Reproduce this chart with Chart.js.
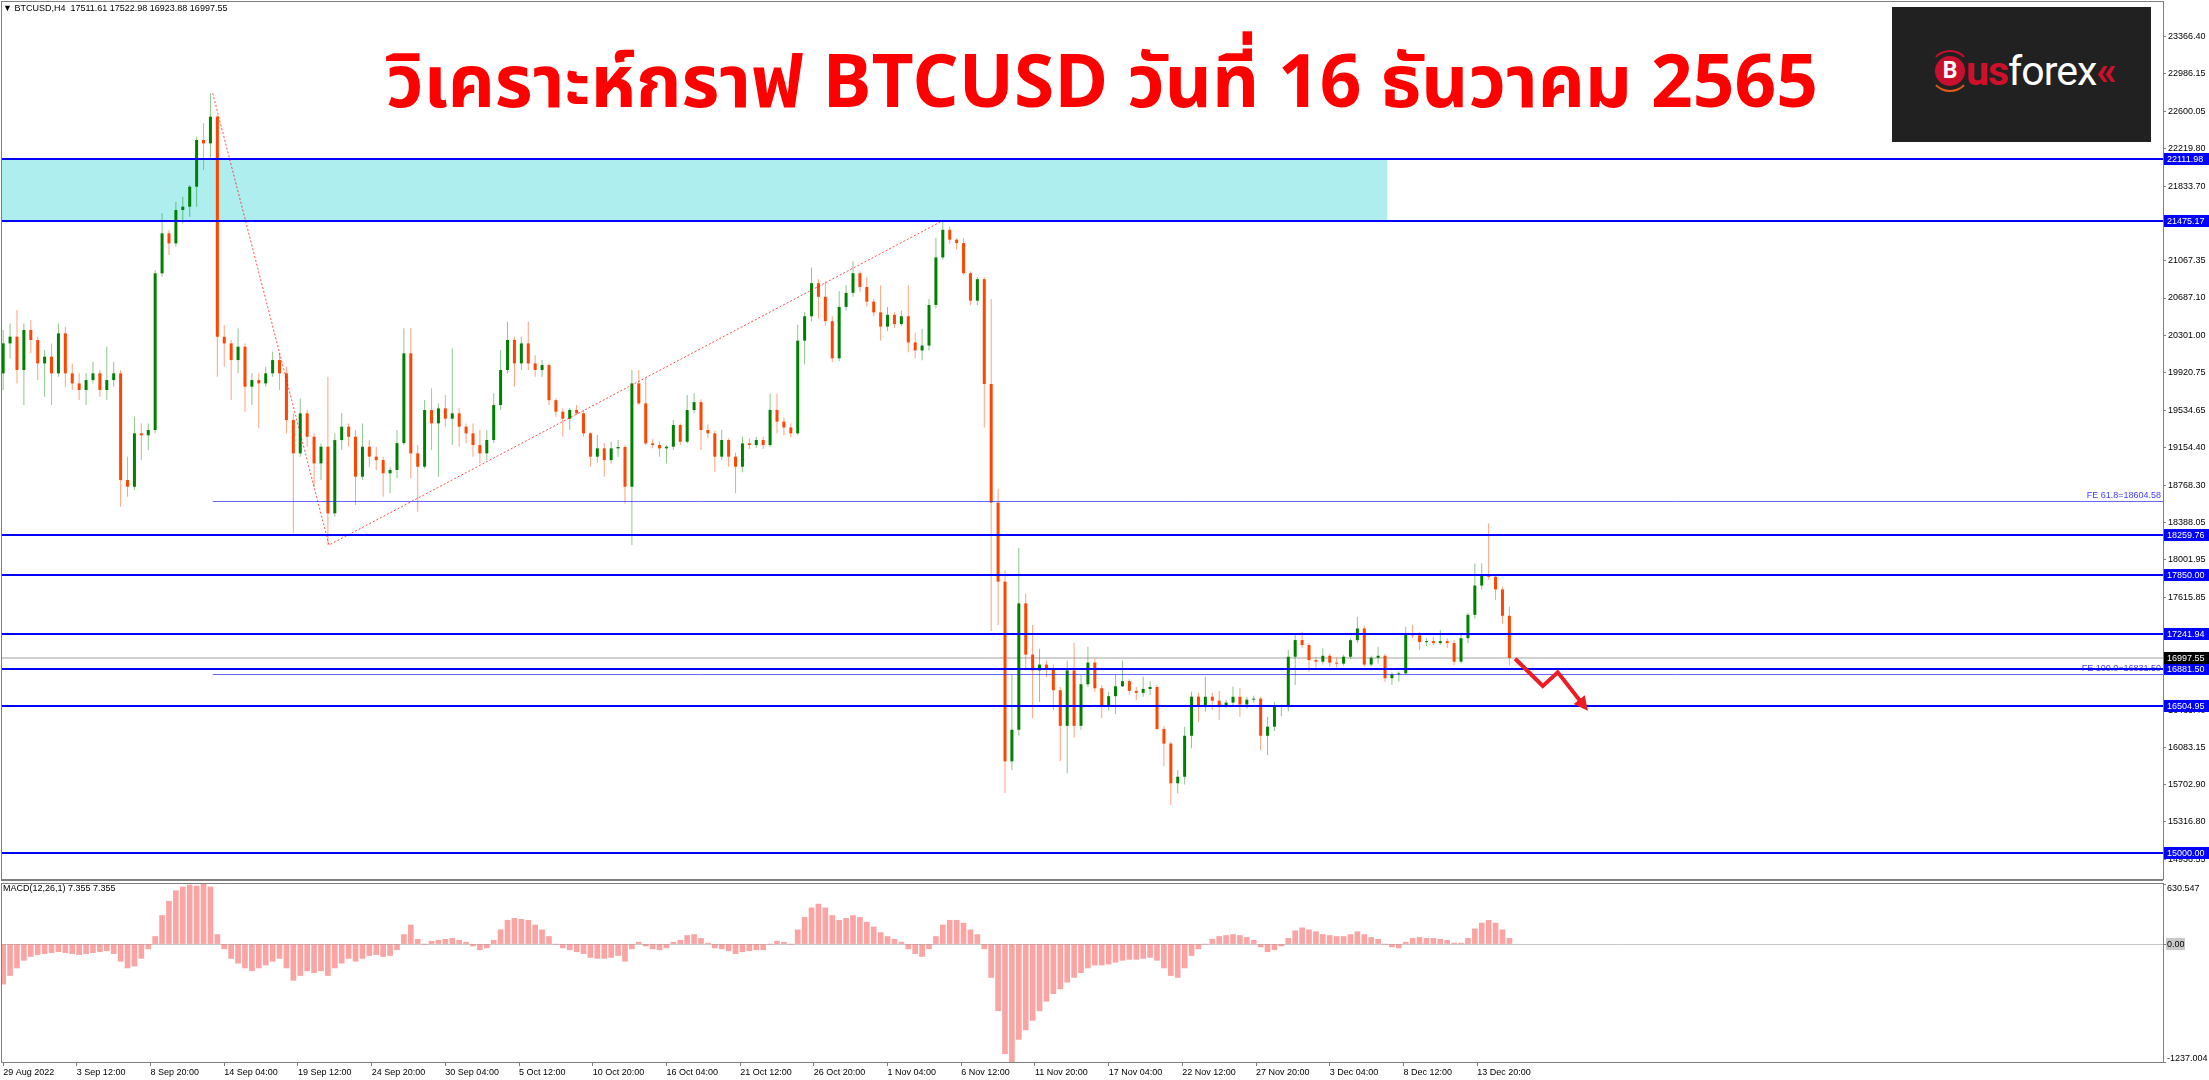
<!DOCTYPE html>
<html lang="th">
<head>
<meta charset="utf-8">
<title>BTCUSD H4</title>
<script src="https://cdn.jsdelivr.net/npm/chart.js@4.4.1/dist/chart.umd.min.js"></script>
<style>
  html, body { margin: 0; padding: 0; background: #ffffff; }
  body { position: relative; width: 2209px; height: 1080px; overflow: hidden; font-family: "Liberation Sans", Arial, sans-serif; }
  canvas { position: absolute; left: 0; }
  #price-chart { top: 0; }
  #macd-chart { top: 881px; }
  .caption { position: absolute; font-size: 9px; line-height: 11px; color: #000; white-space: pre; }
  #title { position: absolute; left: 0; top: 35px; width: 2204px; text-align: center; color: #ff0000; font-weight: bold; font-size: 73px; line-height: 100px; font-family: "Noto Sans Thai", "Noto Sans", sans-serif; white-space: nowrap; }
  #logo { position: absolute; left: 1892px; top: 7px; width: 259px; height: 135px; background: #212121; }
  #logo .coin { position: absolute; left: 43px; top: 49px; width: 30px; height: 30px; border-radius: 50%; background: #c8102e; color: #fff; font: bold 23px/30px Roboto, sans-serif; text-align: center; }
  #logo .ring { position: absolute; left: 37px; top: 43px; width: 38px; height: 38px; border-radius: 50%; border: 2px solid transparent; border-top-color: #c8102e; border-bottom-color: #e05a1a; }
  #logo .word { position: absolute; left: 74px; top: 42px; font: 41px/44px Roboto, sans-serif; white-space: nowrap; letter-spacing: -1px; }
  #logo .us { color: #d0102a; font-weight: bold; }
  #logo .fx { color: #ffffff; }
  #logo .chev { color: #d0102a; font-weight: bold; }
</style>
</head>
<body>
<canvas id="price-chart" width="2209" height="881"></canvas>
<canvas id="macd-chart" width="2209" height="199"></canvas>
<div class="caption" style="left:3px;top:3px">▼ BTCUSD,H4  17511.61 17522.98 16923.88 16997.55</div>
<div class="caption" style="left:3px;top:883px">MACD(12,26,1) 7.355 7.355</div>
<div id="title">วิเคราะห์กราฟ BTCUSD วันที่ 16 ธันวาคม 2565</div>
<div id="logo"><div class="ring"></div><div class="coin">B</div><div class="word"><span class="us">us</span><span class="fx">forex</span><span class="chev">«</span></div></div>
<script>
// 12 hour candles (29 Aug 2022 - 16 Dec 2022)
const opens = [
  19915,20222,20291,19949,20359,20257,20017,20086,19915,20325,
  19915,19812,19744,19846,19915,19744,19846,19915,18821,18753,
  19300,19280,19334,20940,21350,21247,21589,21623,21828,22307,
  22272,22546,20290,20222,20051,20188,19778,19846,19812,19915,
  20051,19915,19436,19095,19505,19265,18992,19163,18480,19231,
  19368,19265,18856,19163,19061,19026,18890,18924,19200,20120,
  19095,18958,19539,19402,19556,19450,19505,19368,19300,19180,
  19095,19232,19590,19949,20257,20017,20222,20017,19949,20000,
  19640,19522,19450,19540,19505,19300,19061,19146,19026,19146,
  19160,18753,19812,19607,19197,19180,19146,19163,19385,19214,
  19539,19620,19334,19300,19061,19232,19061,18958,19197,19180,
  19232,19180,19540,19420,19360,19300,20250,20500,20839,20700,
  20450,20069,20596,20740,20941,20800,20650,20540,20394,20515,
  20420,20500,20232,20150,20200,20616,21103,21386,21285,21250,
  20941,20660,20880,19806,18590,17780,15938,16262,17557,17032,
  16870,16930,16890,16667,16302,16870,16302,16728,16950,16687,
  16500,16606,16707,16760,16660,16640,16680,16700,16270,16120,
  15713,15780,16200,16601,16500,16600,16560,16515,16540,16600,
  16520,16570,16580,16200,16293,16498,16500,17010,17181,17130,
  16976,16960,17020,16950,16940,17010,17180,17300,16930,17000,
  17020,16790,16830,16840,17249,17230,17160,17170,17150,17170,
  17150,16960,17200,17440,17740,17847,17830,17700,17430
];
const highs = [
  20359,20427,20564,20427,20461,20291,20155,20222,20427,20393,
  20017,19915,19915,20034,19949,20188,20034,19949,19061,19470,
  19402,19402,20974,21555,21384,21674,21726,21845,22341,22478,
  22785,22560,20410,20257,20376,20222,19915,19915,19983,20137,
  20120,19983,19505,19658,19539,19300,19197,19881,19300,19505,
  19402,19334,19402,19231,19163,19061,18958,19334,20376,20376,
  19180,19642,19761,19607,19693,20171,19556,19402,19400,19334,
  19334,19710,20154,20444,20290,20290,20444,20100,20052,20017,
  19659,19556,19560,19590,19540,19310,19283,19200,19214,19232,
  19180,19949,19949,19864,19240,19220,19180,19437,19400,19693,
  19710,19650,19390,19330,19334,19250,19100,19266,19249,19266,
  19266,19705,19705,19462,19400,20414,20540,21001,20880,20860,
  20500,20758,20819,21062,20960,20900,20680,20819,20596,20540,
  20560,20819,20330,20373,20677,21305,21467,21420,21300,21300,
  20960,20900,20900,20677,18733,17900,16829,18125,17659,17335,
  17092,16971,16930,16700,16971,17153,16829,17112,16990,16720,
  16650,16829,16971,16780,16700,16805,16760,16720,16300,16140,
  15850,16293,16652,16640,16805,16640,16660,16570,16703,16686,
  16600,16610,16600,16396,16549,16520,17079,17232,17266,17150,
  17010,17096,17040,17000,17030,17200,17420,17330,17020,17113,
  17040,16850,16860,17318,17335,17260,17200,17215,17283,17200,
  17180,17232,17460,17966,17966,18376,17840,17727,17522.98
];
const lows = [
  19744,20068,19812,19590,20120,19846,19675,19590,19881,19778,
  19744,19641,19590,19812,19675,19641,19778,18548,18650,18719,
  19026,19129,19300,20906,21128,21213,21452,21521,21623,22000,
  22102,19881,19983,19641,19915,19522,19590,19351,19778,19881,
  19744,19300,18275,19061,19163,18753,18821,18155,18446,19129,
  19163,18565,18821,18958,18924,18651,18685,18840,19180,18839,
  18497,18940,19129,18856,19368,19180,19163,19197,19061,18992,
  19026,19200,19540,19915,19778,19950,19950,19881,19881,19590,
  19471,19266,19334,19488,19266,18958,19000,18856,18992,19060,
  18582,18155,19590,19180,19146,19061,18992,19129,19180,19197,
  19505,19129,19250,18907,19030,18958,18685,18900,19140,19150,
  19140,19160,19300,19280,19260,19280,20009,20450,20475,20400,
  20029,20040,20556,20700,20750,20600,20500,20252,20350,20380,
  20400,20130,20069,20049,20150,20580,21080,21244,21184,20920,
  20616,20616,19361,17274,17335,15614,15850,16200,16870,16383,
  16545,16800,16465,15938,15816,16181,16260,16700,16650,16383,
  16460,16424,16700,16620,16566,16600,16620,16259,15888,15491,
  15611,15700,16071,16345,16450,16464,16362,16490,16500,16396,
  16480,16540,16054,16003,16250,16400,16450,16720,17100,16857,
  16900,16930,16908,16900,16920,16990,17150,16908,16910,16940,
  16754,16720,16754,16820,17200,17079,17120,17130,17130,17100,
  16925,16940,17150,17400,17700,17800,17591,17352,16923.88
];
const closes = [
  20222,20291,19949,20359,20257,20017,20086,19915,20325,19915,
  19812,19744,19846,19915,19744,19846,19915,18821,18753,19300,
  19280,19334,20940,21350,21247,21589,21623,21828,22307,22272,
  22546,20290,20222,20051,20188,19778,19846,19812,19915,20051,
  19915,19436,19095,19505,19265,18992,19163,18480,19231,19368,
  19265,18856,19163,19061,19026,18890,18924,19200,20120,19095,
  18958,19539,19402,19556,19450,19505,19368,19300,19180,19095,
  19232,19590,19949,20257,20017,20222,20017,19949,20000,19640,
  19522,19450,19540,19505,19300,19061,19146,19026,19146,19160,
  18753,19812,19607,19197,19180,19146,19163,19385,19214,19539,
  19620,19334,19300,19061,19232,19061,18958,19197,19180,19232,
  19180,19540,19420,19360,19300,20250,20500,20839,20700,20450,
  20069,20596,20740,20941,20800,20650,20540,20394,20515,20420,
  20500,20232,20150,20200,20616,21103,21386,21285,21250,20941,
  20660,20880,19806,18590,17780,15938,16262,17557,17032,16870,
  16930,16890,16667,16302,16870,16302,16728,16950,16687,16500,
  16606,16707,16760,16660,16640,16680,16700,16270,16120,15713,
  15780,16200,16601,16500,16600,16560,16515,16540,16600,16520,
  16570,16580,16200,16293,16498,16500,17010,17181,17130,16976,
  16960,17020,16950,16940,17010,17180,17300,16930,17000,17020,
  16790,16830,16840,17249,17230,17160,17170,17150,17170,17150,
  16960,17200,17440,17740,17847,17830,17700,17430,16997.55
];
// MACD(12,26,1) histogram, one reading per 12h candle
const macdValues = [
  -420,-330,-250,-170,-130,-110,-100,-90,-80,-90,
  -100,-110,-100,-90,-80,-70,-100,-180,-250,-230,
  -150,-50,80,300,450,560,600,620,610,630,
  600,100,-50,-150,-200,-250,-280,-250,-220,-180,
  -150,-250,-380,-330,-280,-300,-280,-330,-250,-200,
  -150,-180,-150,-120,-110,-130,-120,-60,100,200,
  50,0,30,40,50,60,40,20,-20,-60,
  -40,40,150,250,270,260,250,200,150,80,
  0,-40,-60,-80,-100,-140,-150,-150,-140,-120,
  -180,-50,20,-20,-50,-60,-40,20,40,90,
  100,60,10,-40,-50,-70,-100,-80,-70,-60,
  -60,0,30,20,0,150,280,380,420,380,
  300,250,270,300,280,230,180,120,80,50,
  20,-50,-100,-130,-50,80,200,250,250,220,
  150,100,-50,-350,-700,-1150,-1237,-1000,-900,-800,
  -700,-600,-520,-470,-400,-350,-300,-250,-220,-220,
  -210,-190,-170,-160,-160,-150,-140,-170,-250,-330,
  -350,-250,-120,-50,0,50,80,90,100,90,
  70,40,-30,-80,-60,-20,60,140,170,150,
  130,100,90,80,80,100,130,100,70,50,
  0,-30,-40,20,60,70,60,60,50,40,
  10,10,60,160,220,250,220,150,60
];

// axis ticks
const priceTicks = [23366.40, 22986.15, 22600.05, 22219.80, 21833.70, 21447.45, 21067.35, 20687.10,
  20301.00, 19920.75, 19534.65, 19154.40, 18768.30, 18388.05, 18001.95, 17615.85, 17229.75,
  16849.50, 16463.40, 16083.15, 15702.90, 15316.80, 14936.55];
const macdTicks = [630.547, 0, -1237.004];
const macdTickLabels = ['630.547', '0.00', '-1237.004'];
// positions counted in H4 bars from 29 Aug 00:00
const timeTicks = [1, 33, 65, 97, 129, 161, 193, 225, 257, 289, 321, 353, 385, 417, 449, 481, 513, 545, 577, 609, 641];
const timeLabels = ['29 Aug 2022', '3 Sep 12:00', '8 Sep 20:00', '14 Sep 04:00', '19 Sep 12:00', '24 Sep 20:00',
  '30 Sep 04:00', '5 Oct 12:00', '10 Oct 20:00', '16 Oct 04:00', '21 Oct 12:00', '26 Oct 20:00',
  '1 Nov 04:00', '6 Nov 12:00', '11 Nov 20:00', '17 Nov 04:00', '22 Nov 12:00', '27 Nov 20:00',
  '3 Dec 04:00', '8 Dec 12:00', '13 Dec 20:00'];

// drawn objects
const levelLines = [22111.98, 21475.17, 18259.76, 17850.00, 17241.94, 16881.50, 16504.95, 15000.00];
const zoneLevels = [21475.17, 22111.98];
const zoneEndBar = 602;
const feLevels = [18604.58, 16831.50];
const feLabels = ['FE 61.8=18604.58', 'FE 100.0=16831.50'];
const feStartBar = 92;
const lastPrice = 16997.55;
const fiboPoints = [[92, 22785], [142.5, 18155], [408, 21467]];
const arrowPoints = [[657.5, 16990], [669.5, 16710], [676, 16850], [688, 16490]];

const X_MIN = 0.5, X_MAX = 938.8;
const UP = '#008000', DOWN = '#ff4500';
const UP_WICK = 'rgba(0,128,0,0.45)', DOWN_WICK = 'rgba(255,69,0,0.5)';
const MACD_RED = 'rgba(245,90,90,0.55)';
const FRAME = '#7f7f7f';
const AXIS_FONT = '9px "Liberation Sans", Arial, sans-serif';

Chart.defaults.font.family = '"Liberation Sans", Arial, sans-serif';
Chart.defaults.font.size = 9;
Chart.defaults.color = '#000';

// each 12h candle sits on the middle of its three H4 bars
const barIndex = closes.map((c, k) => 3 * k + 1);
const isUp = closes.map((c, k) => c >= opens[k]);

function clipArea(ctx, a) {
  ctx.beginPath();
  ctx.rect(a.left, a.top, a.right - a.left, a.bottom - a.top);
  ctx.clip();
}

function axisBox(ctx, a, yPix, text, bg) {
  ctx.fillStyle = bg;
  ctx.fillRect(a.right + 1, Math.round(yPix) - 6, 45, 12);
  ctx.fillStyle = '#fff';
  ctx.textAlign = 'left';
  ctx.textBaseline = 'middle';
  ctx.fillText(text, a.right + 4, Math.round(yPix) + 0.5);
}

const priceOverlay = {
  id: 'priceOverlay',
  beforeDatasetsDraw(chart) {
    const { ctx, chartArea: a, scales: { x, y } } = chart;
    ctx.save();
    clipArea(ctx, a);
    const y1 = y.getPixelForValue(zoneLevels[1]);
    const y2 = y.getPixelForValue(zoneLevels[0]);
    ctx.fillStyle = '#afeeee';
    ctx.fillRect(a.left, y1, x.getPixelForValue(zoneEndBar) - a.left, y2 - y1);
    // current price line
    ctx.strokeStyle = '#c0c0c0';
    ctx.lineWidth = 1.5;
    const yl = y.getPixelForValue(lastPrice);
    ctx.beginPath(); ctx.moveTo(a.left, yl); ctx.lineTo(a.right, yl); ctx.stroke();
    ctx.restore();
  },
  afterDatasetsDraw(chart) {
    const { ctx, chartArea: a, scales: { x, y } } = chart;
    ctx.save();
    clipArea(ctx, a);
    // fibo expansion anchors
    ctx.strokeStyle = 'rgba(255,0,0,0.7)';
    ctx.lineWidth = 1;
    ctx.setLineDash([2, 2]);
    ctx.beginPath();
    fiboPoints.forEach((p, i) => {
      const px = x.getPixelForValue(p[0]), py = y.getPixelForValue(p[1]);
      if (i === 0) ctx.moveTo(px, py); else ctx.lineTo(px, py);
    });
    ctx.stroke();
    ctx.setLineDash([]);
    // FE levels
    ctx.strokeStyle = 'rgba(40,40,255,0.7)';
    ctx.lineWidth = 1;
    ctx.font = AXIS_FONT;
    feLevels.forEach((v, i) => {
      const py = Math.round(y.getPixelForValue(v)) + 0.5;
      ctx.beginPath(); ctx.moveTo(x.getPixelForValue(feStartBar), py); ctx.lineTo(a.right, py); ctx.stroke();
      ctx.fillStyle = '#4040ff';
      ctx.textAlign = 'right';
      ctx.textBaseline = 'bottom';
      ctx.fillText(feLabels[i], a.right - 2, py - 1);
    });
    // horizontal levels
    ctx.strokeStyle = '#0000ff';
    ctx.lineWidth = 2;
    levelLines.forEach(v => {
      const py = Math.round(y.getPixelForValue(v));
      ctx.beginPath(); ctx.moveTo(a.left, py); ctx.lineTo(a.right, py); ctx.stroke();
    });
    // forecast arrow
    const pts = arrowPoints.map(p => [x.getPixelForValue(p[0]), y.getPixelForValue(p[1])]);
    ctx.strokeStyle = '#ee1c25';
    ctx.fillStyle = '#ee1c25';
    ctx.lineWidth = 4;
    ctx.lineJoin = 'miter';
    ctx.beginPath();
    pts.forEach((p, i) => { if (i === 0) ctx.moveTo(p[0], p[1]); else ctx.lineTo(p[0], p[1]); });
    ctx.stroke();
    const [ex, ey] = pts[pts.length - 1], [sx, sy] = pts[pts.length - 2];
    const ang = Math.atan2(ey - sy, ex - sx);
    ctx.beginPath();
    ctx.moveTo(ex + 4 * Math.cos(ang), ey + 4 * Math.sin(ang));
    ctx.lineTo(ex - 10 * Math.cos(ang) + 7 * Math.sin(ang), ey - 10 * Math.sin(ang) - 7 * Math.cos(ang));
    ctx.lineTo(ex - 10 * Math.cos(ang) - 7 * Math.sin(ang), ey - 10 * Math.sin(ang) + 7 * Math.cos(ang));
    ctx.closePath();
    ctx.fill();
    ctx.restore();
  },
  afterDraw(chart) {
    const { ctx, chartArea: a, scales: { y } } = chart;
    ctx.save();
    ctx.font = AXIS_FONT;
    levelLines.forEach(v => axisBox(ctx, a, y.getPixelForValue(v), v.toFixed(2), '#0000ff'));
    axisBox(ctx, a, y.getPixelForValue(lastPrice), lastPrice.toFixed(2), '#000000');
    ctx.strokeStyle = FRAME;
    ctx.lineWidth = 1;
    ctx.strokeRect(a.left - 0.5, a.top - 0.5, a.right - a.left + 1, a.bottom - a.top + 1);
    ctx.fillStyle = FRAME;
    ctx.fillRect(a.left - 1, a.bottom, a.right - a.left + 1, 2);
    ctx.restore();
  }
};

const macdOverlay = {
  id: 'macdOverlay',
  beforeDraw(chart) {
    const { ctx, chartArea: a, scales: { y } } = chart;
    const y0 = Math.round(y.getPixelForValue(0)) + 0.5;
    ctx.save();
    ctx.strokeStyle = '#c8c8c8';
    ctx.lineWidth = 1;
    ctx.beginPath(); ctx.moveTo(a.left, y0); ctx.lineTo(a.right, y0); ctx.stroke();
    ctx.fillStyle = '#c8c8c8';
    ctx.fillRect(a.right + 3, y0 - 6.5, 19, 12);
    ctx.restore();
  },
  afterDraw(chart) {
    const { ctx, chartArea: a, scales: { y } } = chart;
    ctx.save();
    ctx.strokeStyle = FRAME;
    ctx.lineWidth = 1;
    ctx.strokeRect(a.left - 0.5, a.top - 0.5, a.right - a.left + 1, a.bottom - a.top + 1);
    // MT4 keeps the extreme labels inside the panel
    ctx.font = AXIS_FONT;
    ctx.fillStyle = '#000';
    ctx.textAlign = 'left';
    ctx.textBaseline = 'middle';
    macdTicks.forEach((v, i) => {
      let py = y.getPixelForValue(v);
      if (i === 0) py += 4;
      if (i === macdTicks.length - 1) py -= 4;
      ctx.fillText(macdTickLabels[i], a.right + 4, Math.round(py) + 0.5);
    });
    ctx.restore();
  }
};

new Chart(document.getElementById('price-chart'), {
  type: 'bar',
  data: {
    datasets: [
      {
        label: 'body',
        data: closes.map((c, k) => ({ x: barIndex[k], y: [opens[k], c] })),
        backgroundColor: isUp.map(u => u ? UP : DOWN),
        maxBarThickness: 3,
        minBarLength: 1,
        grouped: false,
        order: 0
      },
      {
        label: 'wick',
        data: closes.map((c, k) => ({ x: barIndex[k], y: [lows[k], highs[k]] })),
        backgroundColor: isUp.map(u => u ? UP_WICK : DOWN_WICK),
        maxBarThickness: 1,
        grouped: false,
        order: 1
      }
    ]
  },
  options: {
    responsive: false,
    animation: false,
    layout: { padding: { left: 2, top: 2, right: 0, bottom: 2 } },
    plugins: { legend: { display: false }, tooltip: { enabled: false } },
    scales: {
      x: { type: 'linear', min: X_MIN, max: X_MAX, offset: false, display: false },
      y: {
        position: 'right',
        min: 14731.98,
        max: 23721.2,
        afterBuildTicks: s => { s.ticks = priceTicks.map(v => ({ value: v })); },
        afterFit: s => { s.width = 46; s.paddingTop = 0; s.paddingBottom = 0; },
        ticks: { autoSkip: false, padding: 2, color: '#000', callback: v => v.toFixed(2) },
        grid: { drawOnChartArea: false, tickLength: 3, color: FRAME },
        border: { display: false }
      }
    }
  },
  plugins: [priceOverlay]
});

new Chart(document.getElementById('macd-chart'), {
  type: 'bar',
  data: {
    datasets: [{
      label: 'MACD',
      data: macdValues.map((v, k) => ({ x: barIndex[k], y: v })),
      backgroundColor: MACD_RED,
      barThickness: 5
    }]
  },
  options: {
    responsive: false,
    animation: false,
    layout: { padding: { left: 2, top: 3, right: 0, bottom: 0 } },
    plugins: { legend: { display: false }, tooltip: { enabled: false } },
    scales: {
      x: {
        type: 'linear', min: X_MIN, max: X_MAX, offset: false,
        afterBuildTicks: s => { s.ticks = timeTicks.map(v => ({ value: v })); },
        afterFit: s => { s.height = 18; s.paddingLeft = 0; s.paddingRight = 0; },
        ticks: { autoSkip: false, maxRotation: 0, minRotation: 0, align: 'start', padding: 1, color: '#000',
          callback: (v, i) => timeLabels[i] },
        grid: { drawOnChartArea: false, offset: false, tickLength: 4, color: FRAME },
        border: { display: false }
      },
      y: {
        position: 'right',
        min: -1237.004,
        max: 630.547,
        afterBuildTicks: s => { s.ticks = macdTicks.map(v => ({ value: v })); },
        afterFit: s => { s.width = 46; s.paddingTop = 0; s.paddingBottom = 0; },
        ticks: { display: false, autoSkip: false },
        grid: { drawOnChartArea: false, tickLength: 3, color: FRAME },
        border: { display: false }
      }
    }
  },
  plugins: [macdOverlay]
});
</script>
</body>
</html>
